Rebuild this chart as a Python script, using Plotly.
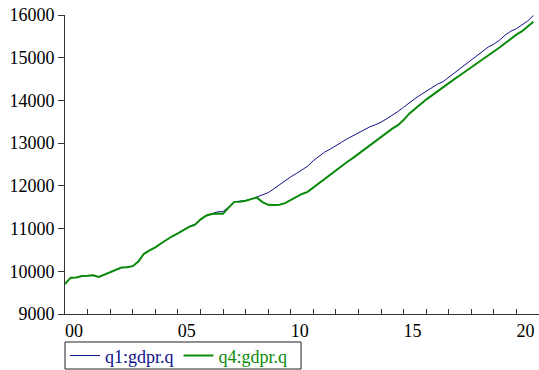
import plotly.graph_objects as go

# quarterly dates 2000Q1 .. 2020Q4
quarters = [2000 + i / 4 for i in range(84)]

q1_gdpr = [
    9700, 9850, 9855, 9890, 9895, 9905, 9866, 9925,
    9978, 10030, 10088, 10096, 10120, 10230, 10410, 10490,
    10560, 10650, 10740, 10820, 10890, 10975, 11050, 11100,
    11220, 11305, 11350, 11390, 11400, 11500, 11630, 11640,
    11655, 11690, 11740, 11800, 11840, 11930, 12030, 12110,
    12210, 12290, 12370, 12460, 12590, 12700, 12790, 12860,
    12950, 13020, 13100, 13170, 13250, 13320, 13380, 13430,
    13490, 13570, 13650, 13740, 13840, 13950, 14040, 14130,
    14220, 14300, 14380, 14440, 14540, 14650, 14760, 14860,
    14950, 15050, 15150, 15250, 15320, 15410, 15530, 15620,
    15680, 15760, 15860, 15990,
]

q4_gdpr = [
    9700, 9850, 9855, 9890, 9895, 9905, 9866, 9925,
    9978, 10030, 10088, 10096, 10120, 10230, 10410, 10490,
    10560, 10650, 10740, 10820, 10890, 10970, 11040, 11085,
    11210, 11300, 11340, 11355, 11345, 11490, 11625, 11630,
    11650, 11690, 11725, 11620, 11555, 11550, 11560, 11595,
    11665, 11740, 11810, 11860, 11960, 12080, 12180, 12280,
    12380, 12470, 12560, 12650, 12750, 12860, 12960, 13060,
    13160, 13250, 13340, 13420, 13540, 13690, 13810, 13910,
    14020, 14120, 14220, 14310, 14400, 14500, 14590, 14680,
    14780, 14870, 14960, 15060, 15140, 15240, 15340, 15450,
    15540, 15620, 15730, 15840,
]

x_tickvals = [2000, 2005, 2010, 2015, 2020]
x_ticktext = ["00", "05", "10", "15", "20"]
y_tickvals = [9000, 10000, 11000, 12000, 13000, 14000, 15000, 16000]
y_ticktext = ["9000", "10000", "11000", "12000", "13000", "14000", "15000", "16000"]

BLUE = "#10108c"
GREEN = "#0a8a0a"
FONT = "Liberation Serif, Times New Roman, serif"

fig = go.Figure()
fig.add_trace(go.Scatter(
    x=quarters, y=q1_gdpr, mode="lines",
    line=dict(color=BLUE, width=1),
    name=f"<span style='color:{BLUE}'>q1:gdpr.q</span>",
))
fig.add_trace(go.Scatter(
    x=quarters, y=q4_gdpr, mode="lines",
    line=dict(color=GREEN, width=2),
    name=f"<span style='color:{GREEN}'>q4:gdpr.q</span>",
))

# thin frame around the legend (plotly's own legend border is too tall)
fig.add_shape(
    type="rect", xref="paper", yref="paper",
    x0=0, x1=0.498, y0=-0.184, y1=-0.0936,
    line=dict(color="#222", width=1), fillcolor="rgba(0,0,0,0)",
)

fig.update_layout(
    width=539, height=370,
    margin=dict(l=65, r=0, t=15, b=56, autoexpand=False),
    paper_bgcolor="white", plot_bgcolor="white",
    font=dict(family=FONT, size=18, color="black"),
    showlegend=True,
    legend=dict(
        orientation="h", x=0, y=-0.14, xanchor="left", yanchor="middle",
        borderwidth=0, bgcolor="rgba(0,0,0,0)",
        font=dict(family=FONT, size=18),
        itemwidth=30, tracegroupgap=0,
    ),
    xaxis=dict(
        range=[2000, 2021], showgrid=False, zeroline=False,
        showline=True, linecolor="#333", linewidth=1,
        tickvals=x_tickvals, ticktext=x_ticktext,
        ticks="inside", ticklen=5, tickcolor="#333",
        ticklabelshift=9, ticklabeloverflow="allow",
        minor=dict(dtick=1, tick0=2000, ticks="inside", ticklen=5, tickcolor="#333"),
        tickfont=dict(family=FONT, size=18),
    ),
    yaxis=dict(
        range=[9000, 16000], showgrid=False, zeroline=False,
        showline=True, linecolor="#333", linewidth=1,
        tickvals=y_tickvals, ticktext=y_ticktext,
        ticks="outside", ticklen=6, tickcolor="#333",
        ticklabeloverflow="allow",
        tickfont=dict(family=FONT, size=18),
    ),
)

fig.write_html(
    "out.html",
    config={"displayModeBar": False},
    post_script="document.body.style.margin='0';document.body.style.overflow='hidden';",
)
